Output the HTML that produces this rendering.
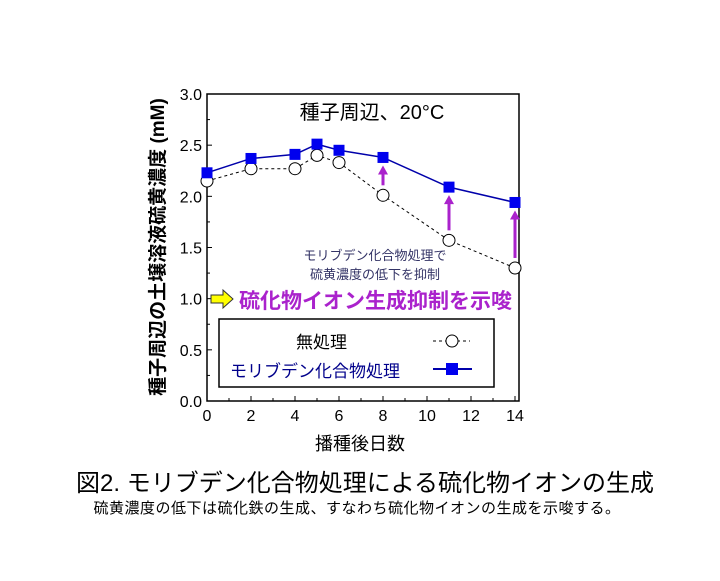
<!DOCTYPE html>
<html><head><meta charset="utf-8">
<style>
body{margin:0;background:#fff;width:720px;height:576px;overflow:hidden;font-family:"Liberation Sans","Noto Sans CJK JP",sans-serif;}
</style></head><body>
<svg width="720" height="576" font-family="Liberation Sans, Noto Sans CJK JP, sans-serif">
<g id="axes"></g>
<g id="marks"></g>
<text x="372" y="119" font-size="20" text-anchor="middle">種子周辺、20°C</text>
<text x="375" y="260" font-size="13" fill="#333366" text-anchor="middle">モリブデン化合物処理で</text>
<text x="375" y="279" font-size="13" fill="#333366" text-anchor="middle">硫黄濃度の低下を抑制</text>
<polygon points="211,295 223,295 223,290 233,299 223,308 223,303 211,303" fill="#ffff00" stroke="#333"/>
<text x="239" y="308" font-size="21" font-weight="bold" fill="#aa22cc">硫化物イオン生成抑制を示唆</text>
<g>
<rect x="219" y="319" width="275" height="68" fill="#fff" stroke="#000" stroke-width="1.5"/>
<text x="296" y="348" font-size="17">無処理</text>
<line x1="433" y1="341" x2="470" y2="341" stroke="#000" stroke-dasharray="3,3"/>
<circle cx="452" cy="341" r="6" fill="#fff" stroke="#000"/>
<text x="230" y="377" font-size="17" fill="#00008b">モリブデン化合物処理</text>
<line x1="433" y1="369" x2="472" y2="369" stroke="#0000aa" stroke-width="2"/>
<rect x="446" y="363" width="12" height="12" fill="#0000ee"/>
</g>
<text x="360" y="450" font-size="18" text-anchor="middle">播種後日数</text>
<text transform="translate(164,247) rotate(-90)" font-size="19" font-weight="bold" text-anchor="middle">種子周辺の土壌溶液硫黄濃度 (mM)</text>
<text x="365" y="491" font-size="24" text-anchor="middle">図2. モリブデン化合物処理による硫化物イオンの生成</text>
<text x="357" y="513" font-size="15" letter-spacing="0.5" text-anchor="middle">硫黄濃度の低下は硫化鉄の生成、すなわち硫化物イオンの生成を示唆する。</text>
</svg>
<script>
const days=[0,2,4,5,6,8,11,14];
const untreated=[2.15,2.27,2.27,2.40,2.33,2.01,1.57,1.30];
const moTreated=[2.23,2.37,2.41,2.51,2.45,2.38,2.09,1.94];
const xTicks=[0,2,4,6,8,10,12,14];
const yTicks=[0.0,0.5,1.0,1.5,2.0,2.5,3.0];
const arrowDays=[8,11,14];
const L=207,R=515,T=94,B=401;
const X=v=>L+(v/14)*(R-L), Y=v=>B-(v/3)*(B-T);
const NS="http://www.w3.org/2000/svg";
function mk(p,t,a){const e=document.createElementNS(NS,t);for(const k in a)e.setAttribute(k,a[k]);p.appendChild(e);return e;}
const ax=document.getElementById('axes'), mg=document.getElementById('marks');
const fr=mk(ax,'rect',{x:L,y:T,width:519-L,height:B-T,fill:'none',stroke:'#000','stroke-width':1.5});


for(let i=0;i<=14;i++){mk(ax,'line',{x1:X(i),x2:X(i),y1:B,y2:B-(i%2?3:5),stroke:'#000'});}
for(let i=0;i<=12;i++){mk(ax,'line',{x1:L,x2:L+(i%2?3:5),y1:Y(i*0.25),y2:Y(i*0.25),stroke:'#000'});}
xTicks.forEach(v=>{const t=mk(ax,'text',{x:X(v),y:B+20,'font-size':16,'text-anchor':'middle'});t.textContent=v;

});
yTicks.forEach(v=>{const t=mk(ax,'text',{x:L-5,y:Y(v)+6,'font-size':16,'text-anchor':'end'});t.textContent=v.toFixed(1);

});
arrowDays.forEach(d=>{const i=days.indexOf(d);const x=X(d),y1=Y(untreated[i])-10,y2=Y(moTreated[i])+8;
const g=mk(mg,'g',{});


mk(g,'line',{x1:x,x2:x,y1:y1,y2:y2+8,stroke:'#aa22cc','stroke-width':3});
mk(g,'polygon',{points:`${x-5},${y2+9} ${x+5},${y2+9} ${x},${y2}`,fill:'#aa22cc'});});
const lu=mk(mg,'polyline',{points:days.map((d,i)=>X(d)+','+Y(untreated[i])).join(' '),fill:'none',stroke:'#000','stroke-dasharray':'3,3'});


const lm=mk(mg,'polyline',{points:days.map((d,i)=>X(d)+','+Y(moTreated[i])).join(' '),fill:'none',stroke:'#0000aa','stroke-width':1.5});


days.forEach((d,i)=>{const c=mk(mg,'circle',{cx:X(d),cy:Y(untreated[i]),r:6,fill:'#fff',stroke:'#000'});


const r=mk(mg,'rect',{x:X(d)-5.5,y:Y(moTreated[i])-5.5,width:11,height:11,fill:'#0000ee'});

});
</script>
</body></html>
